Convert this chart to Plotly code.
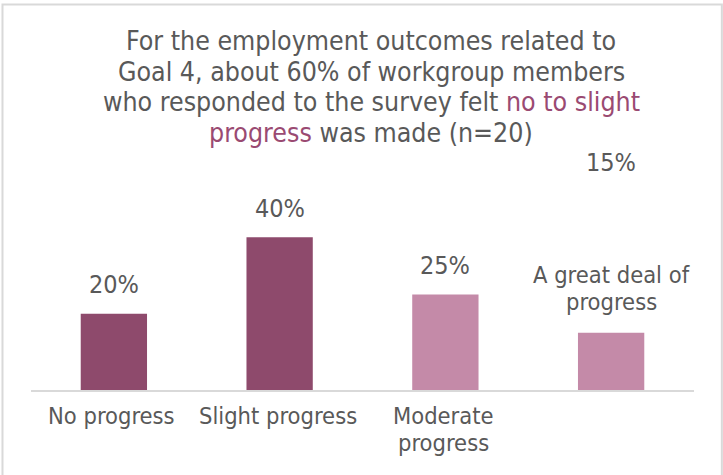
import plotly.graph_objects as go

# Survey responses on progress toward Goal 4 employment outcomes (n=20)
categories = ["No progress", "Slight progress", "Moderate progress", "A great deal of progress"]
category_lines = [["No progress"], ["Slight progress"], ["Moderate", "progress"], []]
top_label_lines = ["A great deal of", "progress"]
values = [20, 40, 25, 15]
value_labels = ["20%", "40%", "25%", "15%"]
bar_colors = ["#8E4A6C", "#8E4A6C", "#C48AA8", "#C48AA8"]

title_lines = [
    "For the employment outcomes related to",
    "Goal 4, about 60% of workgroup members",
    "who responded to the survey felt <span style='color:#9A4A72'>no to slight</span>",
    "<span style='color:#9A4A72'>progress</span> was made (n=20)",
]

FONT = "Liberation Sans Narrow, DejaVu Sans Condensed, Roboto, sans-serif"
TEXT = "#595959"
LABEL_SIZE = 23.5
LINE_STEP = 27

fig = go.Figure(
    go.Bar(
        x=categories,
        y=values,
        marker=dict(color=bar_colors, line=dict(width=0)),
        width=0.4,
        hoverinfo="skip",
    )
)

# Title, one annotation per line for tight line spacing
for i, line in enumerate(title_lines):
    fig.add_annotation(
        xref="paper", yref="paper", x=0.513, y=1, text=line, showarrow=False,
        xanchor="center", yanchor="middle", yshift=59.5 - 30.7 * i,
        font=dict(family=FONT, size=26.5, color=TEXT),
    )

# Value labels above the first three bars
for cat, val, lab in zip(categories[:3], values[:3], value_labels[:3]):
    fig.add_annotation(
        x=cat, y=val, text=lab, showarrow=False,
        yanchor="middle", yshift=29,
        font=dict(family=FONT, size=25, color=TEXT),
    )

# Fourth bar: its category name sits right above it, its value sits high up
for i, line in enumerate(top_label_lines):
    fig.add_annotation(
        x=categories[3], y=values[3], text=line, showarrow=False,
        yanchor="middle", yshift=30.5 + LINE_STEP * (len(top_label_lines) - 1 - i),
        font=dict(family=FONT, size=LABEL_SIZE, color=TEXT),
    )
fig.add_annotation(
    x=categories[3], y=values[3], text=value_labels[3], showarrow=False,
    yanchor="middle", yshift=170,
    font=dict(family=FONT, size=25, color=TEXT),
)

# Category names under the axis
for cat, lines in zip(categories, category_lines):
    for i, line in enumerate(lines):
        fig.add_annotation(
            x=cat, y=0, text=line, showarrow=False,
            xanchor="center", yanchor="middle", xshift=-2, yshift=-25.5 - LINE_STEP * i,
            font=dict(family=FONT, size=LABEL_SIZE, color=TEXT),
        )

# Light frame around the chart
fig.add_shape(
    type="rect", xref="paper", yref="paper",
    x0=-0.043, x1=1.042, y0=-0.4, y1=1.329,
    line=dict(color="#D9D9D9", width=2), fillcolor="rgba(0,0,0,0)", layer="below",
)

fig.update_layout(
    width=723, height=475,
    margin=dict(l=31, r=29, t=100, b=85),
    paper_bgcolor="white", plot_bgcolor="white",
    showlegend=False,
    xaxis=dict(
        showticklabels=False,
        showline=True, linecolor="#D9D9D9", linewidth=2,
        showgrid=False, ticks="", zeroline=False,
    ),
    yaxis=dict(
        range=[0, 76], visible=False, showgrid=False, zeroline=False,
    ),
)

fig.write_html("out.html")
